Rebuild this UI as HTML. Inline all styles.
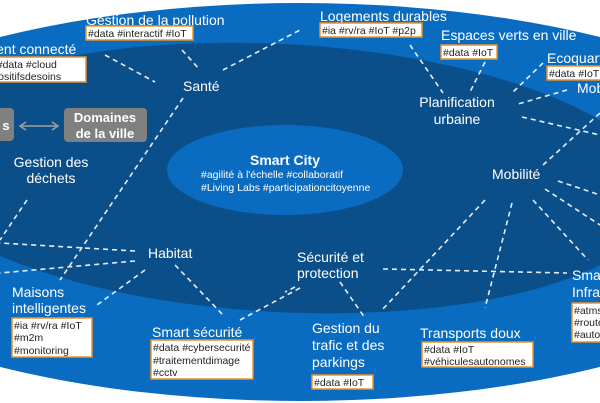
<!DOCTYPE html>
<html><head><meta charset="utf-8"><style>
html,body{margin:0;padding:0;background:#fff;overflow:hidden}
svg{display:block}
text{font-family:"Liberation Sans",sans-serif}
.w{fill:#fff;font-size:14px}
.t{fill:#222;font-size:10.5px}
.b{fill:#fff;stroke:#e8922a;stroke-width:1.5}
.d{stroke:#fff;stroke-width:1.6;stroke-dasharray:5 4;fill:none;opacity:.9}
</style></head><body>
<svg width="600" height="403" viewBox="0 0 600 403">
<rect width="600" height="403" fill="#fff"/>
<ellipse cx="300" cy="202" rx="536" ry="199" fill="#0a6cc0"/>
<ellipse cx="280" cy="178" rx="381" ry="134" fill="#0b4f8a" transform="rotate(3 280 178)"/>
<ellipse cx="285" cy="170" rx="118" ry="45" fill="#0a6cc0"/>

<g class="d">
<path d="M182 50 L200 70"/><path d="M105 55 L155 82"/><path d="M223 70 L300 30"/>
<path d="M183 98 L60 280"/><path d="M27 200 L0 240"/>
<path d="M135 251 L0 243"/><path d="M135 261 L0 273"/>
<path d="M145 270 L97 305"/><path d="M175 265 L223 315"/><path d="M240 320 L300 288"/>
<path d="M410 45 L443 93"/><path d="M485 62 L470 92"/><path d="M543 63 L512 93"/>
<path d="M567 90 L518 104"/><path d="M522 117 L600 135"/>
<path d="M543 165 L600 113"/><path d="M558 181 L600 195"/><path d="M545 189 L600 225"/>
<path d="M533 200 L588 260"/><path d="M512 203 L485 308"/><path d="M485 200 L382 310"/>
<path d="M383 269 L567 273"/><path d="M340 282 L365 318"/><path d="M295 287 L285 292"/>
</g>

<!-- gray boxes -->
<rect x="-20" y="108" width="34" height="33" rx="4" fill="#808080"/>
<text x="6" y="130" fill="#fff" font-size="13" font-weight="bold" text-anchor="middle">s</text>
<rect x="64" y="108" width="83" height="34" rx="4" fill="#808080"/>
<text x="105" y="122" fill="#fff" font-size="13" font-weight="bold" text-anchor="middle">Domaines</text>
<text x="105" y="138" fill="#fff" font-size="13" font-weight="bold" text-anchor="middle">de la ville</text>
<path d="M22 126 H56 M26 122 L20 126 L26 130 M52 122 L58 126 L52 130" stroke="#a0a0a0" stroke-width="1.5" fill="none"/>

<!-- Smart City -->
<text x="285" y="165" fill="#fff" font-size="14" font-weight="bold" text-anchor="middle">Smart City</text>
<text x="201" y="178" fill="#fff" font-size="10.5">#agilité à l'échelle #collaboratif</text>
<text x="201" y="191" fill="#fff" font-size="10.5">#Living Labs #participationcitoyenne</text>

<!-- labels -->
<text class="w" x="86" y="25">Gestion de la pollution</text>
<rect class="b" x="86" y="26" width="107" height="14"/><text class="t" x="88" y="37">#data #interactif #IoT</text>
<text class="w" x="-28" y="54">Patient connecté</text>
<rect class="b" x="-30" y="57" width="116" height="25"/><text class="t" x="-27" y="68">#IoT #data #cloud</text><text class="t" x="-27" y="80">#dispositifsdesoins</text>
<text class="w" x="183" y="91">Santé</text>
<text class="w" x="320" y="21">Logements durables</text>
<rect class="b" x="320" y="23" width="102" height="14"/><text class="t" x="322" y="34">#ia #rv/ra #IoT #p2p</text>
<text class="w" x="441" y="40">Espaces verts en ville</text>
<rect class="b" x="441" y="45" width="56" height="14"/><text class="t" x="443" y="56">#data #IoT</text>
<text class="w" x="547" y="63">Ecoquartiers</text>
<rect class="b" x="547" y="66" width="60" height="14"/><text class="t" x="549" y="77">#data #IoT</text>
<text class="w" x="577" y="93">Mobilier</text>
<text class="w" x="457" y="107" text-anchor="middle">Planification</text>
<text class="w" x="457" y="124" text-anchor="middle">urbaine</text>
<text class="w" x="51" y="167" text-anchor="middle">Gestion des</text>
<text class="w" x="51" y="183" text-anchor="middle">déchets</text>
<text class="w" x="492" y="179">Mobilité</text>
<text class="w" x="148" y="258">Habitat</text>
<text class="w" x="297" y="262">Sécurité et</text>
<text class="w" x="297" y="278">protection</text>
<text class="w" x="572" y="280">Smart</text>
<text class="w" x="572" y="297">Infrastructures</text>
<rect class="b" x="572" y="303" width="40" height="39"/><text class="t" x="574" y="314">#atms</text><text class="t" x="574" y="326">#routes</text><text class="t" x="574" y="338">#autoroutes</text>
<text class="w" x="12" y="297">Maisons</text>
<text class="w" x="12" y="313">intelligentes</text>
<rect class="b" x="12" y="318" width="80" height="39"/><text class="t" x="14" y="329">#ia #rv/ra #IoT</text><text class="t" x="14" y="341">#m2m</text><text class="t" x="14" y="354">#monitoring</text>
<text class="w" x="152" y="337">Smart sécurité</text>
<rect class="b" x="151" y="340" width="102" height="39"/><text class="t" x="153" y="351">#data #cybersecurité</text><text class="t" x="153" y="364">#traitementdimage</text><text class="t" x="153" y="376">#cctv</text>
<text class="w" x="312" y="333">Gestion du</text>
<text class="w" x="312" y="350">trafic et des</text>
<text class="w" x="312" y="367">parkings</text>
<rect class="b" x="312" y="375" width="61" height="14"/><text class="t" x="314" y="386">#data #IoT</text>
<text class="w" x="420" y="338">Transports doux</text>
<rect class="b" x="422" y="342" width="111" height="25"/><text class="t" x="424" y="353">#data #IoT</text><text class="t" x="424" y="365">#véhiculesautonomes</text>
</svg>
</body></html>
